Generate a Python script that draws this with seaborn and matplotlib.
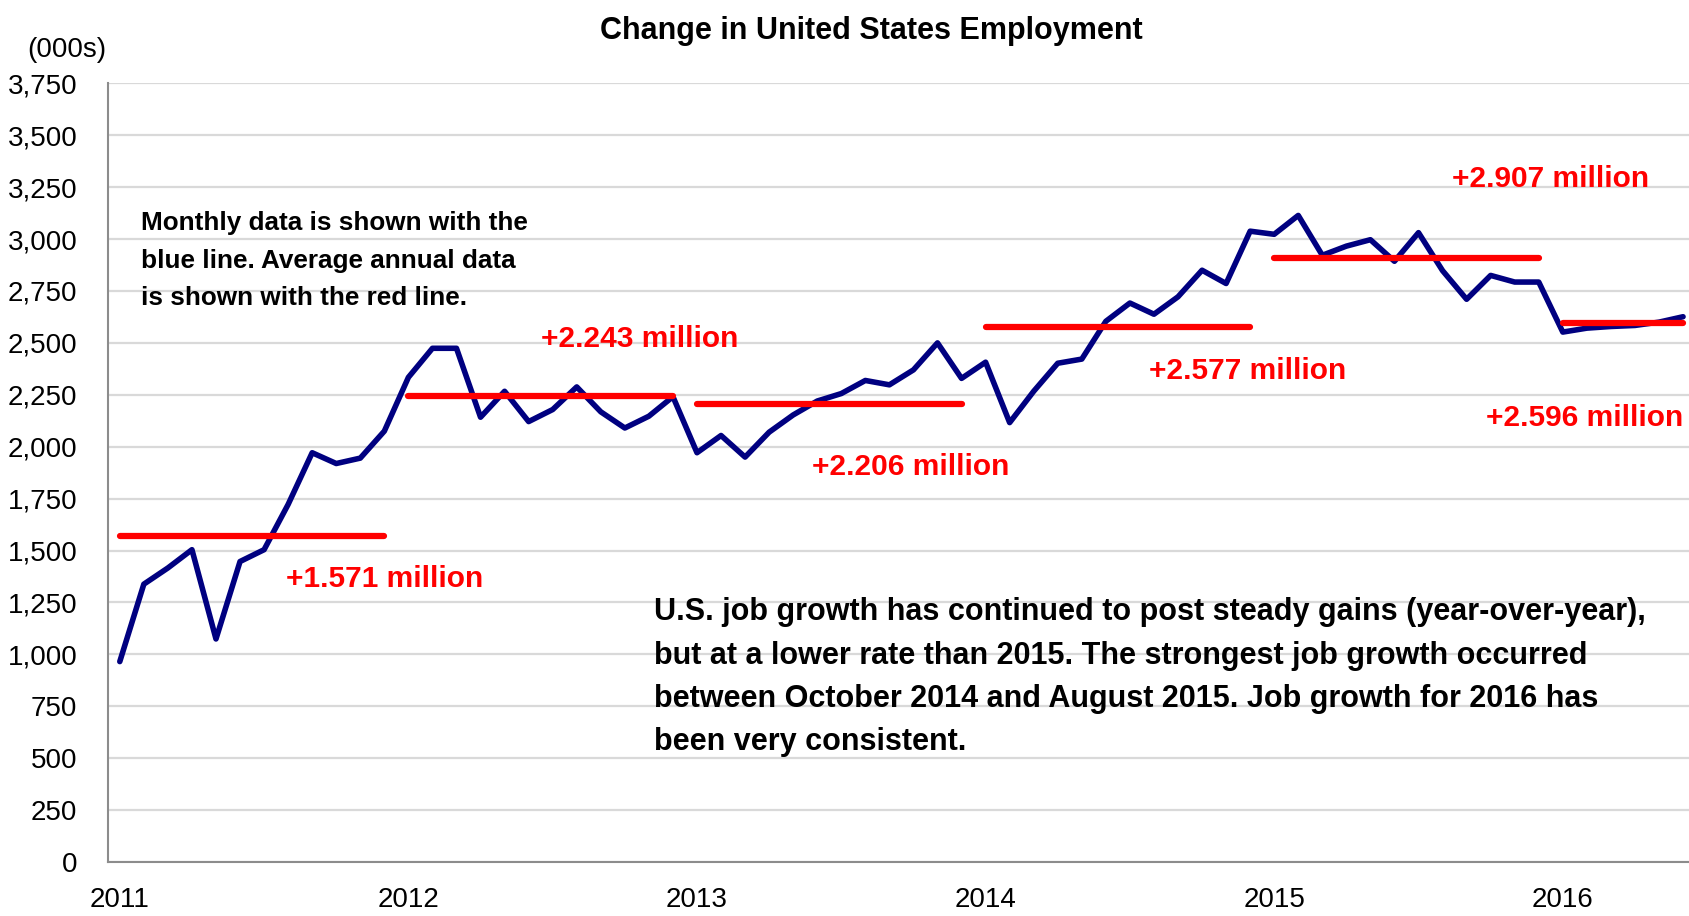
import matplotlib
matplotlib.use('Agg')
import matplotlib.pyplot as plt
import numpy as np
import pandas as pd
import seaborn as sns

# monthly change in employment (000s), Jan 2011 - Jun 2016
monthly_change = [
    965, 1338, 1416, 1504, 1074, 1447, 1504, 1722, 1971, 1919, 1945, 2075,   # 2011
    2334, 2474, 2474, 2142, 2267, 2121, 2179, 2288, 2168, 2090, 2147, 2241,  # 2012
    1971, 2054, 1950, 2070, 2153, 2220, 2256, 2319, 2298, 2370, 2500, 2329,  # 2013
    2407, 2116, 2267, 2402, 2422, 2604, 2692, 2638, 2722, 2850, 2786, 3038,  # 2014
    3023, 3114, 2922, 2966, 2997, 2893, 3031, 2848, 2710, 2825, 2793, 2793,  # 2015
    2552, 2571, 2579, 2584, 2600, 2626,                                      # 2016
]
years = [2011, 2012, 2013, 2014, 2015, 2016]
annual_avg = [1571, 2243, 2206, 2577, 2907, 2596]
annual_labels = ['+1.571 million', '+2.243 million', '+2.206 million',
                 '+2.577 million', '+2.907 million', '+2.596 million']
yticks = [0, 250, 500, 750, 1000, 1250, 1500, 1750, 2000, 2250, 2500,
          2750, 3000, 3250, 3500, 3750]

#%% BUILD TABLE
df = pd.DataFrame({'change': monthly_change})
df['pos'] = np.arange(len(df)) + 0.5
df['year'] = [years[0] + i // 12 for i in range(len(df))]

#%% CONFIGS
sns.set_style('white')
plt.rcParams['font.family'] = ['Liberation Sans', 'DejaVu Sans']
plt.rcParams['text.color'] = 'black'
plt.rcParams['xtick.color'] = 'black'
plt.rcParams['ytick.color'] = 'black'

fig = plt.figure(figsize=(16.89, 9.16), dpi=100)
ax = fig.add_axes([0.0638, 0.059, 0.9398, 0.850])

for y in yticks:
    ax.axhline(y, color='#d9d9d9', lw=1.6, zorder=0)

sns.lineplot(data=df, x='pos', y='change', color='#000080', lw=4, ax=ax,
             zorder=3)

# annual average lines, from Jan point to last point of each year
for yr, avg in zip(years, annual_avg):
    sub = df[df['year'] == yr]
    ax.hlines(avg, sub['pos'].min(), sub['pos'].max(), color='#ff0000',
              lw=4.5, capstyle='round', zorder=4)

label_xy = [(7.4, 1364), (18.0, 2521), (29.3, 1904),
            (43.3, 2365), (55.9, 3289), (57.3, 2137)]
for (x, y), lab in zip(label_xy, annual_labels):
    ax.text(x, y, lab, color='#ff0000', fontsize=21.5, fontweight='bold',
            va='center', ha='left')

ax.text(1.4, 3135, 'Monthly data is shown with the\nblue line. Average annual data\nis shown with the red line.',
        fontsize=18.8, fontweight='bold', va='top', ha='left', linespacing=1.72)
ax.text(22.7, 1275, 'U.S. job growth has continued to post steady gains (year-over-year),\n'
        'but at a lower rate than 2015. The strongest job growth occurred\n'
        'between October 2014 and August 2015. Job growth for 2016 has\n'
        'been very consistent.',
        fontsize=22, fontweight='bold', va='top', ha='left', linespacing=1.58)

ax.set_xlim(0, 66)
ax.set_ylim(0, 3750)
ax.set_yticks(yticks)
ax.set_yticklabels([f'{v:,}' for v in yticks])
ax.set_xticks([12 * i for i in range(len(years))])
ax.set_xticklabels([])
ax.set_xticks([12 * i + 0.5 for i in range(len(years))], minor=True)
ax.set_xticklabels([str(y) for y in years], minor=True)
ax.tick_params(axis='x', which='major', length=9, width=1.5, color='#8c8c8c', direction='out')
ax.tick_params(axis='x', which='minor', length=0, labelsize=20, pad=18)
ax.tick_params(axis='y', length=9, width=1.5, color='#8c8c8c', labelsize=20, pad=13)
ax.set_xlabel('')
ax.set_ylabel('')

sns.despine(ax=ax, top=True, right=True)
for s in ['left', 'bottom']:
    ax.spines[s].set_color('#8c8c8c')
    ax.spines[s].set_linewidth(1.5)

fig.text(0.516, 0.966, 'Change in United States Employment', fontsize=22,
         fontweight='bold', ha='center', va='center')
fig.text(0.016, 0.945, '(000s)', fontsize=20, ha='left', va='center')

fig.savefig('out.png', dpi=100)
